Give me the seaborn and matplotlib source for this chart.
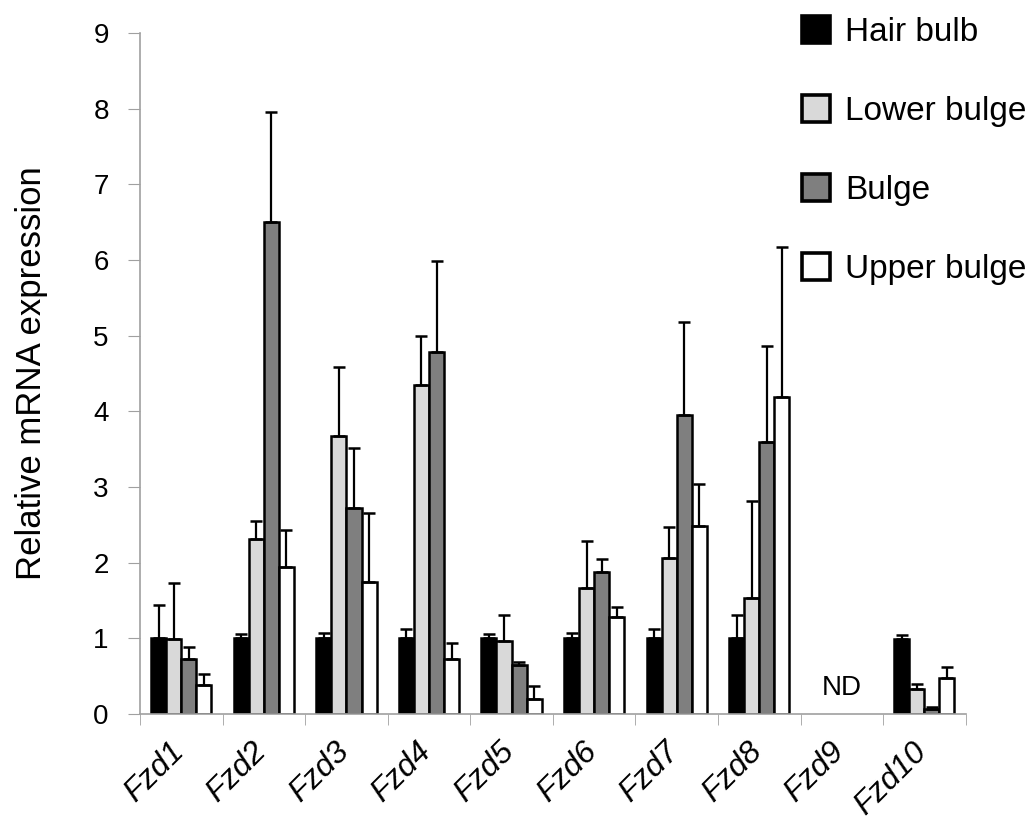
import numpy as np
import pandas as pd
import matplotlib
matplotlib.use("Agg")
import matplotlib.pyplot as plt
import matplotlib.transforms as mtransforms
import seaborn as sns

# Values
genes = ["Fzd1", "Fzd2", "Fzd3", "Fzd4", "Fzd5", "Fzd6", "Fzd7", "Fzd8", "Fzd9", "Fzd10"]
regions = ["Hair bulb", "Lower bulge", "Bulge", "Upper bulge"]

hair_bulb = [1.0, 1.0, 1.0, 1.0, 1.0, 1.0, 1.0, 1.0, np.nan, 0.99]
lower_bulge = [0.99, 2.31, 3.67, 4.35, 0.96, 1.66, 2.06, 1.53, np.nan, 0.33]
bulge = [0.73, 6.50, 2.72, 4.78, 0.65, 1.88, 3.95, 3.60, np.nan, 0.07]
upper_bulge = [0.38, 1.94, 1.74, 0.73, 0.20, 1.28, 2.48, 4.19, np.nan, 0.47]

# top of error bar
hair_bulb_top = [1.44, 1.06, 1.07, 1.12, 1.06, 1.07, 1.12, 1.31, np.nan, 1.05]
lower_bulge_top = [1.73, 2.55, 4.58, 4.99, 1.31, 2.28, 2.47, 2.82, np.nan, 0.40]
bulge_top = [0.89, 7.95, 3.51, 5.98, 0.69, 2.05, 5.18, 4.86, np.nan, 0.09]
upper_bulge_top = [0.53, 2.43, 2.65, 0.94, 0.37, 1.42, 3.04, 6.17, np.nan, 0.62]

colors = ["#000000", "#d9d9d9", "#7f7f7f", "#ffffff"]

values = [hair_bulb, lower_bulge, bulge, upper_bulge]
tops = [hair_bulb_top, lower_bulge_top, bulge_top, upper_bulge_top]

rows = []
for r, v, t in zip(regions, values, tops):
    for g, val, top in zip(genes, v, t):
        rows.append({"Gene": g, "Region": r, "Value": val, "Top": top})
df = pd.DataFrame(rows)

sns.set_style("white")
plt.rcParams["font.family"] = ["Liberation Sans", "DejaVu Sans"]
plt.rcParams["text.color"] = "black"
plt.rcParams["axes.labelcolor"] = "black"

fig = plt.figure(figsize=(10.32, 8.23), dpi=100)
ax = fig.add_axes([0.1357, 0.1324, 0.8, 0.8276])

sns.barplot(data=df, x="Gene", y="Value", hue="Region", order=genes,
            hue_order=regions, palette=colors, edgecolor="black",
            linewidth=1.8, width=0.73, errorbar=None, ax=ax)

# one-sided error bars on top of each bar
for region, container in zip(regions, ax.containers):
    sub = df[df["Region"] == region].set_index("Gene")
    for bar in container:
        h = bar.get_height()
        if np.isnan(h):
            continue
        xc = bar.get_x() + bar.get_width() / 2
        gi = int(round(xc))
        top = sub.loc[genes[gi], "Top"]
        ax.errorbar(xc, h, yerr=[[0], [top - h]], fmt="none", ecolor="black",
                    elinewidth=1.6, capsize=4, capthick=1.8, zorder=1)

ax.text(8, 0.34, "ND", ha="center", va="center", fontsize=20)

ax.set_ylim(0, 9)
ax.set_xlim(-0.5, len(genes) - 0.5)
ax.set_yticks(range(10))
ax.tick_params(axis="y", labelsize=20, length=8.5, pad=14, color="#a0a0a0",
               labelcolor="black", direction="out", left=True)
ax.set_xticks(range(len(genes)))
ax.set_xticklabels(genes, rotation=45, ha="right", va="center",
                   rotation_mode="anchor", fontsize=23, style="italic")
ax.tick_params(axis="x", which="major", length=0, pad=24, labelcolor="black")
ax.set_xticks(np.arange(-0.5, len(genes), 1), minor=True)
ax.tick_params(axis="x", which="minor", length=8, color="#a0a0a0", direction="out", bottom=True)
shift = mtransforms.ScaledTranslation(-0.02, 0, fig.dpi_scale_trans)
for lab in ax.get_xticklabels():
    lab.set_transform(lab.get_transform() + shift)

for s in ["top", "right"]:
    ax.spines[s].set_visible(False)
for s in ["left", "bottom"]:
    ax.spines[s].set_color("#a0a0a0")
    ax.spines[s].set_linewidth(1.2)

ax.set_xlabel("")
ax.set_ylabel("Relative mRNA expression", fontsize=25)
ax.yaxis.set_label_coords(-0.112, 0.5)

handles, labels = ax.get_legend_handles_labels()
for h in handles:
    h.set_edgecolor("black")
    h.set_linewidth(2.6)
ax.legend(handles, labels, loc="upper left", bbox_to_anchor=(802 / 1032, 1 - 16 / 823),
          bbox_transform=fig.transFigure, frameon=False, fontsize=24,
          handlelength=0.85, handleheight=0.85, handletextpad=0.45,
          labelspacing=1.42, borderpad=0, borderaxespad=0)

fig.savefig("out.png", dpi=100)
